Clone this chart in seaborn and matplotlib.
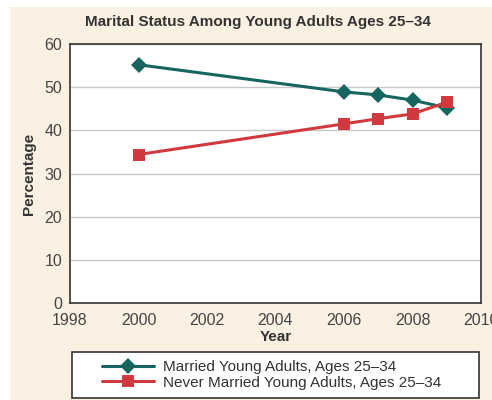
import matplotlib
matplotlib.use("Agg")
import matplotlib.pyplot as plt
import seaborn as sns
import pandas as pd
from matplotlib.patches import Rectangle
from matplotlib.lines import Line2D

years = [2000, 2006, 2007, 2008, 2009]
married = [55.2, 48.9, 48.2, 47.0, 45.2]
never_married = [34.4, 41.5, 42.7, 43.8, 46.5]
series_names = ["Married Young Adults, Ages 25\u201334", "Never Married Young Adults, Ages 25\u201334"]
x_ticks = [1998, 2000, 2002, 2004, 2006, 2008, 2010]
y_ticks = [0, 10, 20, 30, 40, 50, 60]

sns.set_theme(style="white")
plt.rcParams['font.family'] = ['Liberation Sans', 'DejaVu Sans']

teal = "#17655F"
red = "#D03A3F"
cream = "#FBF1E3"

df = pd.DataFrame({
    "Year": years * 2,
    "Value": married + never_married,
    "Series": [series_names[0]] * len(years) + [series_names[1]] * len(years),
})

fig = plt.figure(figsize=(4.92, 4.0), dpi=100, facecolor="white")
fig.patches.append(Rectangle((10/492, 0), 1 - 10/492, 1 - 7/400, transform=fig.transFigure,
                             facecolor=cream, edgecolor="none", zorder=-10))
ax = fig.add_axes([70/492, 1 - 303/400, (481-70)/492, (303-44)/400])
ax.set_facecolor("white")

sns.lineplot(data=df, x="Year", y="Value", hue="Series", style="Series",
             palette=[teal, red], markers=["D", "s"], dashes=False,
             markersize=8, linewidth=2.2, markeredgewidth=0, ax=ax, legend=False)

ax.set_xlim(1998, 2010)
ax.set_ylim(0, 60)
ax.set_xticks(x_ticks)
ax.set_yticks(y_ticks)
ax.yaxis.grid(True, color="#C8C8C8", linewidth=1)
ax.xaxis.grid(False)
for s in ax.spines.values():
    s.set_color("#333333")
    s.set_linewidth(1.2)
ax.tick_params(axis="both", direction="out", length=4, width=1, color="#333333",
               labelsize=11.5, labelcolor="#444444", pad=1.5)
ax.tick_params(axis="x", pad=3.5)
ax.set_xlabel("Year", fontsize=11, fontweight="bold", color="#333333", labelpad=1)
ax.set_ylabel("Percentage", fontsize=11, fontweight="bold", color="#333333", labelpad=6)

fig.text(258/492, 1 - 22/400, "Marital Status Among Young Adults Ages 25\u201334",
         ha="center", va="center", fontsize=11, fontweight="bold", color="#333333")

fig.patches.append(Rectangle((72/492, 1 - 398/400), (479-72)/492, 46/400, transform=fig.transFigure,
                             facecolor="white", edgecolor="#333333", linewidth=1.2, zorder=1))
handles = [Line2D([], [], color=teal, marker="D", markersize=8, linewidth=2.2, markeredgewidth=0),
           Line2D([], [], color=red, marker="s", markersize=8, linewidth=2.2, markeredgewidth=0)]
leg = fig.legend(handles, series_names, loc="center", bbox_to_anchor=(272/492, 1 - 375/400),
                 frameon=False, fontsize=11, handlelength=3.4, handletextpad=0.6,
                 borderpad=0.2, labelspacing=0.1)
for t in leg.get_texts():
    t.set_color("#333333")

fig.savefig("out.png", dpi=100, facecolor=fig.get_facecolor())
